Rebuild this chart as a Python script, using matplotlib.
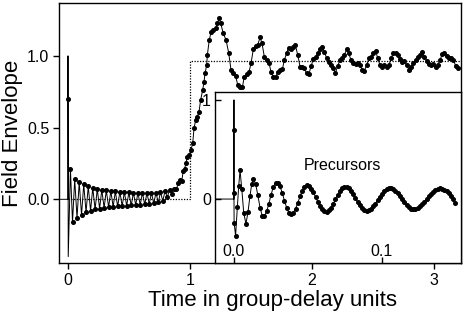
import matplotlib
matplotlib.use('Agg')
import matplotlib.pyplot as plt

plt.rcParams['font.family'] = ['Liberation Sans', 'DejaVu Sans']

# ---- main trace (time in group-delay units, field envelope) ----
main_t = [-0.074, 0.000, 0.000, 0.000, 0.002,
          0.020, 0.037, 0.055, 0.074, 0.092, 0.111, 0.129, 0.148, 0.166, 0.185,
          0.203, 0.222, 0.240, 0.259, 0.277, 0.296, 0.314, 0.333, 0.351, 0.370,
          0.388, 0.407, 0.425, 0.444, 0.462, 0.481, 0.499, 0.518, 0.536, 0.555,
          0.573, 0.592, 0.610, 0.629, 0.647, 0.666, 0.684, 0.703, 0.721, 0.740,
          0.758, 0.777, 0.795, 0.814, 0.832, 0.851, 0.869, 0.888, 0.905, 0.920,
          0.932, 0.945, 0.956, 0.967, 0.978, 0.995, 1.008, 1.022, 1.033, 1.046,
          1.060, 1.074, 1.087, 1.104, 1.115, 1.123, 1.137, 1.142, 1.158, 1.172,
          1.191, 1.210, 1.224, 1.240, 1.251, 1.273, 1.295, 1.317, 1.336, 1.355,
          1.374, 1.391, 1.410, 1.429, 1.445, 1.465, 1.484, 1.500, 1.519, 1.538,
          1.555, 1.574, 1.590, 1.609, 1.628, 1.648, 1.664, 1.683, 1.702, 1.719,
          1.738, 1.757, 1.773, 1.793, 1.809, 1.828, 1.847, 1.863, 1.883, 1.902,
          1.921, 1.937, 1.956, 1.975, 1.992, 2.011, 2.030, 2.046, 2.066, 2.085,
          2.101, 2.120, 2.139, 2.156, 2.175, 2.191, 2.210, 2.230, 2.249, 2.265,
          2.284, 2.300, 2.320, 2.339, 2.358, 2.374, 2.393, 2.413, 2.429, 2.448,
          2.467, 2.484, 2.503, 2.522, 2.538, 2.557, 2.577, 2.593, 2.612, 2.631,
          2.648, 2.667, 2.686, 2.702, 2.721, 2.740, 2.757, 2.776, 2.795, 2.811,
          2.830, 2.850, 2.866, 2.885, 2.904, 2.920, 2.940, 2.959, 2.975, 2.994,
          3.014, 3.030, 3.049, 3.068, 3.084, 3.104, 3.123, 3.139, 3.158, 3.178,
          3.194]
main_v = [0.0, 0.0, 1.00, 0.70, -0.40,
          0.21, -0.16, 0.14, -0.13, 0.12, -0.11, 0.105, -0.09, 0.09, -0.08,
          0.08, -0.07, 0.072, -0.065, 0.066, -0.06, 0.062, -0.055, 0.058, -0.052,
          0.055, -0.05, 0.053, -0.047, 0.05, -0.045, 0.048, -0.043, 0.046, -0.04,
          0.045, -0.038, 0.044, -0.035, 0.043, -0.032, 0.044, -0.028, 0.046, -0.022,
          0.05, -0.012, 0.058, 0.015, 0.068, 0.04, 0.075, 0.07, 0.115, 0.135,
          0.125, 0.20, 0.215, 0.25, 0.297, 0.31, 0.345, 0.39, 0.495, 0.553,
          0.577, 0.611, 0.693, 0.763, 0.82, 0.879, 0.937, 1.007, 1.112, 1.165,
          1.181, 1.193, 1.228, 1.263, 1.228, 1.158, 1.112, 1.023, 0.902, 0.879,
          0.860, 0.798, 0.782, 0.782, 0.856, 0.874, 0.890, 0.949, 1.047, 1.070,
          1.077, 1.130, 1.089, 0.995, 0.972, 0.949, 0.890, 0.851, 0.851, 0.890,
          0.902, 0.907, 0.972, 1.023, 1.058, 1.047, 1.065, 1.077, 1.007, 0.925,
          0.921, 0.914, 0.879, 0.874, 0.930, 0.977, 0.991, 1.019, 1.047, 1.061,
          1.030, 0.984, 0.960, 0.937, 0.914, 0.879, 0.930, 0.972, 0.984, 1.007,
          1.047, 1.019, 0.972, 0.949, 0.944, 0.949, 0.937, 0.902, 0.897, 0.937,
          0.984, 0.995, 1.019, 1.037, 0.984, 0.937, 0.925, 0.935, 0.925, 0.937,
          0.984, 1.023, 1.019, 1.007, 0.977, 0.960, 0.965, 0.937, 0.902, 0.925,
          0.953, 0.972, 0.995, 1.007, 1.030, 0.995, 0.967, 0.942, 0.937, 0.942,
          0.925, 0.937, 0.972, 1.014, 1.019, 1.002, 0.984, 0.984, 0.972, 0.930,
          0.914]

# ---- ideal step (dotted) ----
step_t = [0.0, 1.0, 1.0, 3.221]
step_v = [0.0, 0.0, 0.967, 0.967]

# ---- inset: precursor detail ----
inset_t = [-0.0128, 0.0, 0.0, 0.0, 0.0, 0.0001, 0.0011, 0.0023, 0.0032, 0.0041,
           0.0053, 0.0066, 0.0081, 0.0095, 0.0108, 0.0120, 0.0131, 0.0146, 0.0161, 0.0176,
           0.0191, 0.0206, 0.0221, 0.0236, 0.0251, 0.0266, 0.0281, 0.0296, 0.0311, 0.0326,
           0.0341, 0.0356, 0.0371, 0.0386, 0.0401, 0.0416, 0.0431, 0.0446, 0.0461, 0.0476,
           0.0491, 0.0506, 0.0521, 0.0536, 0.0551, 0.0566, 0.0581, 0.0596, 0.0611, 0.0626,
           0.0641, 0.0656, 0.0671, 0.0686, 0.0701, 0.0716, 0.0731, 0.0746, 0.0761, 0.0776,
           0.0791, 0.0806, 0.0821, 0.0836, 0.0851, 0.0866, 0.0881, 0.0896, 0.0911, 0.0926,
           0.0941, 0.0956, 0.0971, 0.0986, 0.1001, 0.1016, 0.1031, 0.1046, 0.1061, 0.1076,
           0.1091, 0.1106, 0.1121, 0.1136, 0.1151, 0.1166, 0.1181, 0.1196, 0.1211, 0.1226,
           0.1241, 0.1256, 0.1271, 0.1286, 0.1301, 0.1316, 0.1331, 0.1346, 0.1361, 0.1376,
           0.1391, 0.1406, 0.1421, 0.1436, 0.1451, 0.1466, 0.1481, 0.1496]
inset_v = [0.0, 0.0, 1.00, 0.70, 0.06, -0.24, -0.37, -0.08, 0.13, 0.29,
           0.10, -0.14, -0.25, -0.13, 0.03, 0.15, 0.20, 0.155, 0.042, -0.086,
           -0.168, -0.171, -0.124, -0.045, 0.045, 0.123, 0.167, 0.167, 0.129, 0.063,
           -0.015, -0.088, -0.139, -0.155, -0.139, -0.098, -0.039, 0.026, 0.084, 0.124,
           0.138, 0.129, 0.105, 0.068, 0.022, -0.025, -0.069, -0.103, -0.123, -0.128,
           -0.115, -0.086, -0.047, -0.002, 0.044, 0.083, 0.112, 0.125, 0.122, 0.107,
           0.081, 0.047, 0.009, -0.030, -0.065, -0.094, -0.112, -0.118, -0.113, -0.098,
           -0.075, -0.045, -0.011, 0.024, 0.056, 0.082, 0.102, 0.113, 0.113, 0.104,
           0.086, 0.061, 0.031, -0.002, -0.033, -0.061, -0.084, -0.099, -0.104, -0.101,
           -0.091, -0.074, -0.052, -0.027, 0.000, 0.028, 0.053, 0.076, 0.093, 0.104,
           0.108, 0.105, 0.096, 0.080, 0.057, 0.030, 0.000, -0.035]

main_xticks = [0, 1, 2, 3]
main_xticklabels = ['0', '1', '2', '3']
main_yticks = [0.0, 0.5, 1.0]
main_yticklabels = ['0.0', '0.5', '1.0']
inset_xticks = [0.0, 0.1]
inset_xticklabels = ['0.0', '0.1']
inset_yticks = [0, 1]
inset_yticklabels = ['0', '1']

fig = plt.figure(figsize=(4.63, 3.11), dpi=100)
ax = fig.add_axes([0.1274, 0.1543, 0.8683, 0.8361])
ax.plot(step_t, step_v, color='black', lw=0.9, ls=(0, (1, 1.2)))
main_marks = [3] + list(range(5, len(main_t)))
ax.plot(main_t, main_v, color='black', lw=0.7, marker='o', ms=2.6,
        markevery=main_marks)
ax.set_xlim(-0.0738, 3.221)
ax.set_ylim(-0.4445, 1.370)
ax.set_xticks(main_xticks)
ax.set_xticklabels(main_xticklabels)
ax.set_yticks(main_yticks)
ax.set_yticklabels(main_yticklabels)
ax.tick_params(direction='out', length=4, width=1, labelsize=11.5, pad=3)
for s in ax.spines.values():
    s.set_linewidth(1.0)
ax.set_xlabel('Time in group-delay units', fontsize=16, labelpad=2)
ax.xaxis.set_label_coords(0.532, -0.105)
ax.set_ylabel('Field Envelope', fontsize=16, labelpad=3)

ins = fig.add_axes([0.4644, 0.1543, 0.5313, 0.5498])
ins.set_facecolor('white')
ins_marks = list(range(3, len(inset_t)))
ins.plot(inset_t, inset_v, color='black', lw=0.7, marker='o', ms=2.6,
         markevery=ins_marks)
ins.set_xlim(-0.0128, 0.1534)
ins.set_ylim(-0.646, 1.081)
ins.set_xticks(inset_xticks)
ins.set_xticklabels(inset_xticklabels)
ins.set_yticks(inset_yticks)
ins.set_yticklabels(inset_yticklabels)
ins.tick_params(direction='in', length=4, width=1, labelsize=11.5)
ins.tick_params(axis='y', pad=3)
ins.tick_params(axis='x', pad=-13.5)
for s in ins.spines.values():
    s.set_linewidth(1.0)
ins.text(0.073, 0.343, 'Precursors', fontsize=11.5, ha='center', va='center')

fig.savefig('out.png', dpi=100)
